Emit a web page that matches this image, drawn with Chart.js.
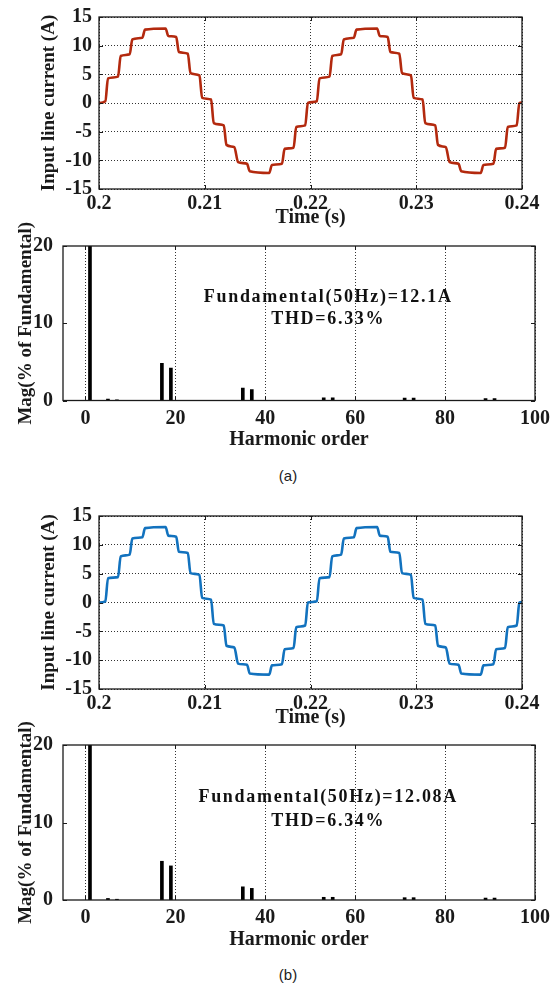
<!DOCTYPE html>
<html>
<head>
<meta charset="utf-8">
<script src="https://cdn.jsdelivr.net/npm/chart.js@4.4.1/dist/chart.umd.min.js"></script>
<style>
  html, body { margin: 0; padding: 0; background: #fff; }
  body { width: 550px; height: 985px; position: relative; overflow: hidden; }
  canvas { position: absolute; left: 0; }
  .cap { position: absolute; left: 238px; width: 100px; text-align: center;
         font: 15px 'Liberation Sans', Arial, sans-serif; color: #222; line-height: 18px; }
</style>
</head>
<body>
<canvas id="waveA" width="550" height="245" style="top:0"></canvas>
<canvas id="harmA" width="550" height="260" style="top:200px"></canvas>
<div class="cap" style="top:467px">(a)</div>
<canvas id="waveB" width="550" height="245" style="top:500px"></canvas>
<canvas id="harmB" width="550" height="260" style="top:700px"></canvas>
<div class="cap" style="top:966px">(b)</div>
<script>
// waveform samples (s, A)
const timeA = [0.2000, 0.2006, 0.20085, 0.2018, 0.20205, 0.2029, 0.20315, 0.2041, 0.20435, 0.2063,
  0.20655, 0.2073, 0.20755, 0.2084, 0.20865, 0.2095, 0.20975, 0.2106,
  0.21085, 0.2118, 0.21205, 0.2128, 0.21315, 0.2140, 0.21425, 0.2161,
  0.21635, 0.2173, 0.21755, 0.2184, 0.21865, 0.2195, 0.21975, 0.2206,
  0.22085, 0.2218, 0.22205, 0.2229, 0.22315, 0.2241, 0.22435, 0.2263,
  0.22655, 0.2273, 0.22755, 0.2284, 0.22865, 0.2295, 0.22975, 0.2306,
  0.23085, 0.2318, 0.23205, 0.2328, 0.23315, 0.2340, 0.23425, 0.2361,
  0.23635, 0.2373, 0.23755, 0.2384, 0.23865, 0.2395, 0.23975, 0.2400];
const currentA = [0.0, 0.3, 4.3, 4.6, 8.2, 8.5, 11.1, 11.4, 12.8, 13.0,
  11.7, 11.5, 8.9, 8.6, 5.2, 4.8, 0.9, 0.6,
  -3.5, -3.9, -7.3, -7.7, -10.3, -10.6, -11.9, -12.2,
  -10.8, -10.6, -8.0, -7.8, -4.2, -3.9, 0.0, 0.3,
  4.3, 4.6, 8.2, 8.5, 11.1, 11.4, 12.8, 13.0,
  11.7, 11.5, 8.9, 8.6, 5.2, 4.8, 0.9, 0.6,
  -3.5, -3.9, -7.3, -7.7, -10.3, -10.6, -11.9, -12.2,
  -10.8, -10.6, -8.0, -7.8, -4.2, -3.9, 0.0, 0.1];
const timeB = timeA;
const currentB = [0.0, 0.2, 4.2, 4.4, 8.0, 8.3, 11.1, 11.3, 12.9, 13.1,
  11.6, 11.4, 8.8, 8.6, 5.1, 4.8, 0.8, 0.5,
  -3.7, -4.0, -7.5, -7.8, -10.6, -10.8, -12.3, -12.5,
  -10.9, -10.7, -8.1, -7.9, -4.3, -4.0, 0.0, 0.2,
  4.2, 4.4, 8.0, 8.3, 11.1, 11.3, 12.9, 13.1,
  11.6, 11.4, 8.8, 8.6, 5.1, 4.8, 0.8, 0.5,
  -3.7, -4.0, -7.5, -7.8, -10.6, -10.8, -12.3, -12.5,
  -10.9, -10.7, -8.1, -7.9, -4.3, -4.0, 0.0, 0.1];

// harmonic spectrum (% of fundamental)
const orders = [1, 5, 7, 17, 19, 35, 37, 53, 55, 71, 73, 89, 91];
const magA = [100, 0.2, 0.1, 4.8, 4.2, 1.6, 1.4, 0.35, 0.35, 0.3, 0.3, 0.25, 0.25];
const magB = [100, 0.2, 0.1, 5.0, 4.4, 1.7, 1.5, 0.35, 0.35, 0.3, 0.3, 0.25, 0.25];

const timeTicks = [0.2, 0.21, 0.22, 0.23, 0.24];
const currentTicks = [-15, -10, -5, 0, 5, 10, 15];
const orderTicks = [0, 20, 40, 60, 80, 100];
const magTicks = [0, 10, 20];

Chart.defaults.font.family = "'Liberation Serif', 'Times New Roman', serif";
Chart.defaults.font.size = 20;
Chart.defaults.font.weight = 'bold';
Chart.defaults.color = '#1a1a1a';
Chart.defaults.animation = false;

const NOTE_FONT = "bold 18px 'Liberation Serif', serif";
const xTitleFont = { size: 20, weight: 'bold' };
const yTitleFont = { size: 19, weight: 'bold' };

// box, inward ticks and text notes, like the matlab figure
const framePlugin = {
  id: 'frame',
  afterDraw(chart, args, opts) {
    const { ctx, chartArea: a, scales } = chart;
    ctx.save();
    ctx.strokeStyle = '#1a1a1a';
    ctx.lineWidth = 1.3;
    ctx.strokeRect(a.left, a.top, a.right - a.left, a.bottom - a.top);
    ctx.lineWidth = 1;
    ctx.beginPath();
    scales.x.ticks.forEach(t => {
      const px = Math.round(scales.x.getPixelForValue(t.value)) + 0.5;
      ctx.moveTo(px, a.bottom); ctx.lineTo(px, a.bottom - 4);
      ctx.moveTo(px, a.top); ctx.lineTo(px, a.top + 4);
    });
    scales.y.ticks.forEach(t => {
      const py = Math.round(scales.y.getPixelForValue(t.value)) + 0.5;
      ctx.moveTo(a.left, py); ctx.lineTo(a.left + 4, py);
      ctx.moveTo(a.right, py); ctx.lineTo(a.right - 4, py);
    });
    ctx.stroke();
    (opts.notes || []).forEach(n => {
      ctx.font = NOTE_FONT;
      ctx.fillStyle = '#111';
      ctx.textAlign = 'center';
      ctx.textBaseline = 'middle';
      if ('letterSpacing' in ctx) ctx.letterSpacing = '1.7px';
      ctx.fillText(n.text, scales.x.getPixelForValue(n.x), scales.y.getPixelForValue(n.y));
    });
    ctx.restore();
  }
};

function waveChart(id, times, currents, color, top) {
  return new Chart(document.getElementById(id), {
    type: 'line',
    data: {
      datasets: [{
        data: times.map((t, i) => ({ x: t, y: currents[i] })),
        borderColor: color,
        borderWidth: 2.6,
        pointRadius: 0,
        cubicInterpolationMode: 'monotone'
      }]
    },
    options: {
      responsive: false,
      layout: { padding: { top: top, right: 28, left: 0, bottom: 0 } },
      plugins: { legend: { display: false }, tooltip: { enabled: false }, frame: {} },
      scales: {
        x: {
          type: 'linear', min: 0.2, max: 0.24,
          afterBuildTicks: s => { s.ticks = timeTicks.map(v => ({ value: v })); },
          afterFit: s => { s.height = 56; s.paddingLeft = 0; s.paddingRight = 0; },
          ticks: { padding: 3, maxRotation: 0, autoSkip: false, callback: v => String(+v.toFixed(2)) },
          grid: { color: '#333', lineWidth: 1, drawTicks: false },
          border: { display: false, dash: [1, 2] },
          title: { display: true, text: 'Time (s)', font: xTitleFont, padding: { top: 0, bottom: 15 } }
        },
        y: {
          min: -15, max: 15,
          afterBuildTicks: s => { s.ticks = currentTicks.map(v => ({ value: v })); },
          afterFit: s => { s.width = 99; s.paddingTop = 0; s.paddingBottom = 0; },
          ticks: { padding: 7 },
          grid: { color: '#333', lineWidth: 1, drawTicks: false },
          border: { display: false, dash: [1, 2] },
          title: { display: true, text: 'Input line current (A)', font: yTitleFont, padding: { top: 38, bottom: 0 } }
        }
      }
    },
    plugins: [framePlugin]
  });
}

function harmChart(id, mags, notes, top, axisH) {
  return new Chart(document.getElementById(id), {
    type: 'bar',
    data: {
      datasets: [{
        data: orders.map((o, i) => ({ x: o, y: mags[i] })),
        backgroundColor: '#000',
        borderWidth: 0,
        barThickness: 3
      }]
    },
    options: {
      responsive: false,
      layout: { padding: { top: top, right: 15, left: 0, bottom: 0 } },
      plugins: { legend: { display: false }, tooltip: { enabled: false }, frame: { notes: notes } },
      scales: {
        x: {
          type: 'linear', min: -5, max: 100, offset: false,
          afterBuildTicks: s => { s.ticks = orderTicks.map(v => ({ value: v })); },
          afterFit: s => { s.height = axisH; s.paddingLeft = 0; s.paddingRight = 0; },
          ticks: { padding: 6, maxRotation: 0, autoSkip: false },
          grid: { color: '#333', lineWidth: 1, drawTicks: false, offset: false },
          border: { display: false, dash: [1, 2] },
          title: { display: true, text: 'Harmonic order', font: xTitleFont, padding: { top: 0, bottom: 8 } }
        },
        y: {
          min: 0, max: 20,
          afterBuildTicks: s => { s.ticks = magTicks.map(v => ({ value: v })); },
          afterFit: s => { s.width = 63; s.paddingTop = 0; s.paddingBottom = 0; },
          ticks: { padding: 10 },
          grid: { display: false, drawTicks: false },
          border: { display: false },
          title: { display: true, text: 'Mag(% of Fundamental)', font: yTitleFont, padding: { top: 15, bottom: 0 } }
        }
      }
    },
    plugins: [framePlugin]
  });
}

waveChart('waveA', timeA, currentA, '#B3290E', 17);
harmChart('harmA', magA, [
  { text: 'Fundamental(50Hz)=12.1A', x: 54, y: 13.4 },
  { text: 'THD=6.33%', x: 54, y: 10.5 }
], 46, 59.5);
waveChart('waveB', timeB, currentB, '#1272BE', 16);
harmChart('harmB', magB, [
  { text: 'Fundamental(50Hz)=12.08A', x: 54, y: 13.2 },
  { text: 'THD=6.34%', x: 54, y: 10.1 }
], 45, 60);
</script>
</body>
</html>
